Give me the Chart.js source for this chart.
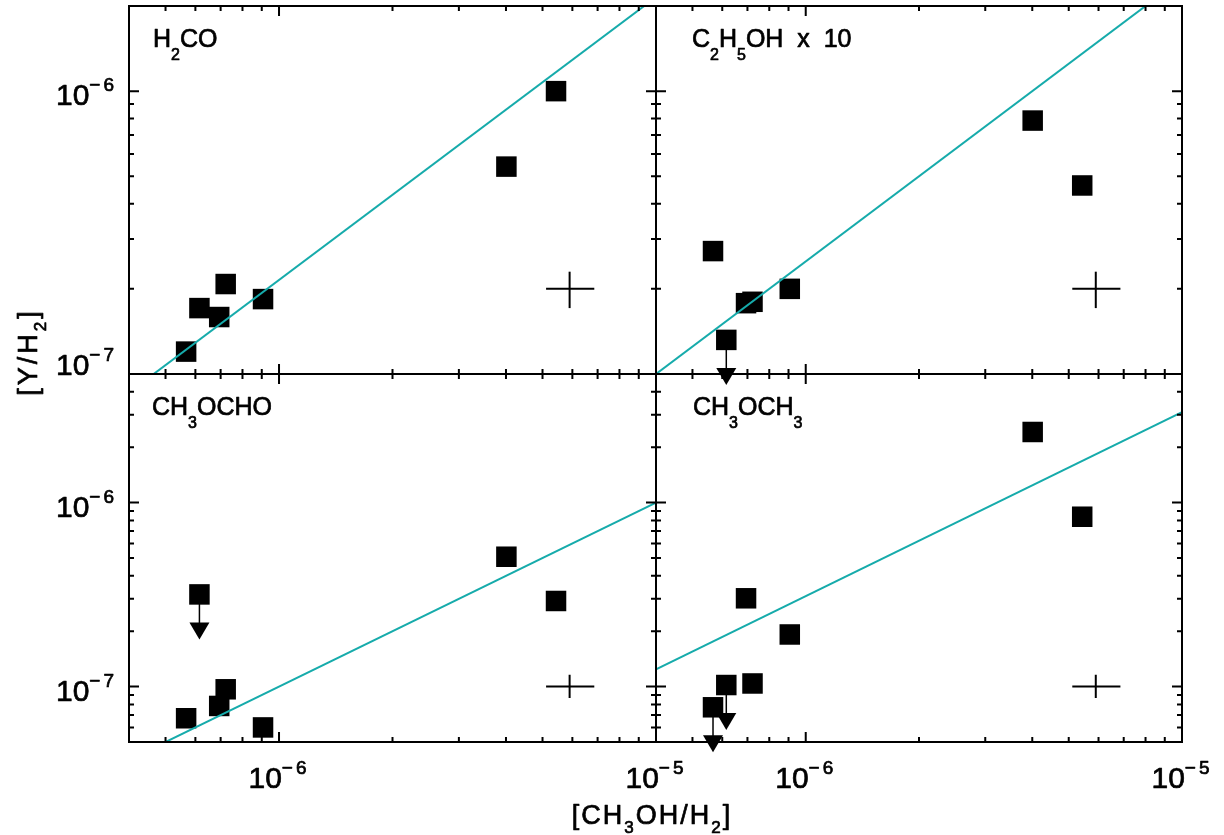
<!DOCTYPE html>
<html>
<head>
<meta charset="utf-8">
<script src="https://cdn.jsdelivr.net/npm/chart.js@4.4.1/dist/chart.umd.min.js"></script>
<style>
  html, body { margin: 0; padding: 0; background: #fff; }
  #wrap { position: relative; width: 1224px; height: 835px; }
  #wrap canvas { position: absolute; left: 0; top: 0; }
</style>
</head>
<body>
<div id="wrap">
  <canvas id="p1" width="1224" height="835"></canvas>
  <canvas id="p2" width="1224" height="835"></canvas>
  <canvas id="p3" width="1224" height="835"></canvas>
  <canvas id="p4" width="1224" height="835"></canvas>
</div>
<script>
// [CH3OH/H2] of the seven sources, same for every panel
const methanol = [5.67e-7, 6.15e-7, 6.94e-7, 7.22e-7, 9.07e-7, 4.01e-6, 5.43e-6];

// [Y/H2] for each molecule
const formaldehyde = [1.20e-7, 1.71e-7, 1.59e-7, 2.08e-7, 1.84e-7, 5.41e-7, 1.00e-6];
const ethanolX10 = [2.72e-7, 1.32e-7, 1.78e-7, 1.80e-7, 2.00e-7, 7.87e-7, 4.64e-7];
const methylFormate = [6.73e-8, 3.17e-7, 7.85e-8, 9.67e-8, 6.00e-8, 5.08e-7, 2.92e-7];
const dimethylEther = [7.72e-8, 1.02e-7, 3.02e-7, 1.04e-7, 1.92e-7, 2.42e-6, 8.38e-7];

// upper limits get a down arrow
const formaldehydeLimits = [false, false, false, false, false, false, false];
const ethanolLimits = [false, true, false, false, false, false, false];
const formateLimits = [false, true, false, false, false, false, false];
const etherLimits = [true, true, false, false, false, false, false];

// fitted lines, values at both ends of the x range
const fitX = [4e-7, 1e-5];
const fitFormaldehyde = [8.6e-8, 2.15e-6];
const fitEthanol = [1.0e-7, 2.5e-6];
const fitFormate = [4.0e-8, 1.0e-6];
const fitEther = [1.24e-7, 3.1e-6];

// typical error cross (low, centre, high)
const errX = [5.11e-6, 5.9e-6, 6.86e-6];
const errTopY = [1.71e-7, 2.0e-7, 2.30e-7];
const errBottomY = [8.67e-8, 1.0e-7, 1.16e-7];

// axis ranges and labelled ticks
const xRange = [4e-7, 1e-5];
const topRange = [1e-7, 2e-6];
const bottomRange = [5e-8, 5e-6];
const labelTicks = [1e-7, 1e-6, 1e-5];

const FONT = '"Liberation Sans", Arial, Helvetica, sans-serif';
const TEAL = '#16abab';

const panels = [
  { id: 'p1', y: formaldehyde, limits: formaldehydeLimits, fit: fitFormaldehyde, yRange: topRange, err: errTopY,
    area: [129, 6, 656, 374], name: [['H', 0], ['2', -1], ['CO', 0]], nameX: 153, showX: false, showY: true },
  { id: 'p2', y: ethanolX10, limits: ethanolLimits, fit: fitEthanol, yRange: topRange, err: errTopY,
    area: [656, 6, 1182, 374], name: [['C', 0], ['2', -1], ['H', 0], ['5', -1], ['OH  x  10', 0]], nameX: 692, showX: false, showY: false },
  { id: 'p3', y: methylFormate, limits: formateLimits, fit: fitFormate, yRange: bottomRange, err: errBottomY,
    area: [129, 374, 656, 742], name: [['CH', 0], ['3', -1], ['OCHO', 0]], nameX: 152, showX: true, showY: true },
  { id: 'p4', y: dimethylEther, limits: etherLimits, fit: fitEther, yRange: bottomRange, err: errBottomY,
    area: [656, 374, 1182, 742], name: [['CH', 0], ['3', -1], ['OCH', 0], ['3', -1]], nameX: 693, showX: true, showY: false, titles: true }
];

// text made of runs: [text, shift] with shift -1 = subscript, 1 = superscript
function drawRuns(ctx, runs, x, y, size, align, opt) {
  const o = Object.assign({ spacing: 0, subDrop: 0.5, supSize: 0.62, supSpacing: 0 }, opt);
  const parts = runs.map(([t, s]) => {
    const fs = s === 0 ? size : Math.round(size * (s > 0 ? o.supSize : 0.62));
    const sp = s > 0 ? o.supSpacing : o.spacing;
    ctx.font = fs + 'px ' + FONT;
    ctx.letterSpacing = sp + 'px';
    return { t, s, fs, sp, w: ctx.measureText(t).width };
  });
  const total = parts.reduce((a, p) => a + p.w, 0);
  let cx = align === 'right' ? x - total : align === 'center' ? x - total / 2 : x;
  ctx.textAlign = 'left';
  ctx.textBaseline = 'alphabetic';
  ctx.lineWidth = 0.7;
  ctx.lineJoin = 'round';
  parts.forEach(p => {
    ctx.font = p.fs + 'px ' + FONT;
    ctx.letterSpacing = p.sp + 'px';
    const dy = p.s < 0 ? size * o.subDrop : p.s > 0 ? -size * 0.47 : 0;
    ctx.fillText(p.t, cx, y + dy);
    ctx.strokeText(p.t, cx, y + dy);
    cx += p.w;
  });
  ctx.letterSpacing = '0px';
}

function tickValues(min, max) {
  const out = [];
  for (let e = Math.floor(Math.log10(min)); e <= Math.ceil(Math.log10(max)); e++) {
    for (let k = 1; k <= 9; k++) {
      const v = k * Math.pow(10, e);
      if (v >= min * 0.999 && v <= max * 1.001) out.push({ v, major: k === 1 });
    }
  }
  return out;
}

function powerLabel(v) {
  return [['10', 0], ['\u2212' + Math.round(-Math.log10(v)), 1]];
}

const powerStyle = { supSize: 0.64, supSpacing: 3 };

function framePlugin(panel) {
  return {
    id: 'frame_' + panel.id,
    afterDraw(chart) {
      const ctx = chart.ctx;
      const xs = chart.scales.x, ys = chart.scales.y;
      const { left, top, right, bottom } = chart.chartArea;
      ctx.save();
      ctx.fillStyle = '#000';
      ctx.strokeStyle = '#000';

      // upper limit arrows
      panel.y.forEach((v, i) => {
        if (!panel.limits[i]) return;
        const px = xs.getPixelForValue(methanol[i]);
        const py = ys.getPixelForValue(v);
        ctx.lineWidth = 1.5;
        ctx.beginPath();
        ctx.moveTo(px, py);
        ctx.lineTo(px, py + 30);
        ctx.stroke();
        ctx.beginPath();
        ctx.moveTo(px - 10, py + 28);
        ctx.lineTo(px + 10, py + 28);
        ctx.lineTo(px, py + 45);
        ctx.closePath();
        ctx.fill();
      });

      // frame
      ctx.lineWidth = 2;
      ctx.strokeRect(left, top, right - left, bottom - top);

      // inward ticks on all four sides
      ctx.beginPath();
      tickValues(xRange[0], xRange[1]).forEach(t => {
        const px = xs.getPixelForValue(t.v);
        const len = t.major ? 10 : 5;
        ctx.moveTo(px, bottom); ctx.lineTo(px, bottom - len);
        ctx.moveTo(px, top); ctx.lineTo(px, top + len);
      });
      tickValues(panel.yRange[0], panel.yRange[1]).forEach(t => {
        const py = ys.getPixelForValue(t.v);
        const len = t.major ? 10 : 5;
        ctx.moveTo(left, py); ctx.lineTo(left + len, py);
        ctx.moveTo(right, py); ctx.lineTo(right - len, py);
      });
      ctx.stroke();

      // tick labels
      if (panel.showY) {
        labelTicks.forEach(v => {
          if (v < panel.yRange[0] * 0.999 || v > panel.yRange[1] * 1.001) return;
          const py = ys.getPixelForValue(v);
          const base = Math.abs(py - bottom) < 2 ? py + 1 : py + 14;
          drawRuns(ctx, powerLabel(v), left - 12, base, 30, 'right', powerStyle);
        });
      }
      if (panel.showX) {
        labelTicks.forEach(v => {
          if (v < xRange[0] * 0.999 || v > xRange[1] * 1.001) return;
          const px = xs.getPixelForValue(v);
          drawRuns(ctx, powerLabel(v), px, bottom + 46, 30, 'center', powerStyle);
        });
      }

      // molecule name
      drawRuns(ctx, panel.name, panel.nameX, top + 41, 25, 'left', { subDrop: 0.52 });

      // axis titles
      if (panel.titles) {
        drawRuns(ctx, [['[CH', 0], ['3', -1], ['OH/H', 0], ['2', -1], [']', 0]], 652, 824, 27, 'center', { spacing: 2, subDrop: 0.33 });
        ctx.translate(37, 352);
        ctx.rotate(-Math.PI / 2);
        drawRuns(ctx, [['[Y/H', 0], ['2', -1], [']', 0]], 0, 0, 27, 'center', { spacing: 3, subDrop: 0.33 });
      }
      ctx.restore();
    }
  };
}

panels.forEach(panel => {
  const [l, t, r, b] = panel.area;
  new Chart(document.getElementById(panel.id), {
    type: 'scatter',
    data: {
      datasets: [
        {
          data: methanol.map((x, i) => ({ x, y: panel.y[i] })),
          pointStyle: 'rect',
          pointRadius: 14.5,
          backgroundColor: '#000',
          borderWidth: 0,
          clip: false,
          order: 2
        },
        {
          type: 'line',
          data: fitX.map((x, i) => ({ x, y: panel.fit[i] })),
          borderColor: TEAL,
          borderWidth: 2,
          pointRadius: 0,
          order: 1
        },
        {
          type: 'line',
          data: [{ x: errX[0], y: panel.err[1] }, { x: errX[2], y: panel.err[1] }],
          borderColor: '#000',
          borderWidth: 2,
          pointRadius: 0,
          order: 1
        },
        {
          type: 'line',
          data: [{ x: errX[1], y: panel.err[0] }, { x: errX[1], y: panel.err[2] }],
          borderColor: '#000',
          borderWidth: 2,
          pointRadius: 0,
          order: 1
        }
      ]
    },
    options: {
      responsive: false,
      animation: false,
      devicePixelRatio: 1,
      events: [],
      layout: { autoPadding: false, padding: { left: l, top: t, right: 1224 - r, bottom: 835 - b } },
      plugins: { legend: { display: false }, tooltip: { enabled: false } },
      scales: {
        x: { type: 'logarithmic', min: xRange[0], max: xRange[1], display: false },
        y: { type: 'logarithmic', min: panel.yRange[0], max: panel.yRange[1], display: false }
      }
    },
    plugins: [framePlugin(panel)]
  });
});
</script>
</body>
</html>
